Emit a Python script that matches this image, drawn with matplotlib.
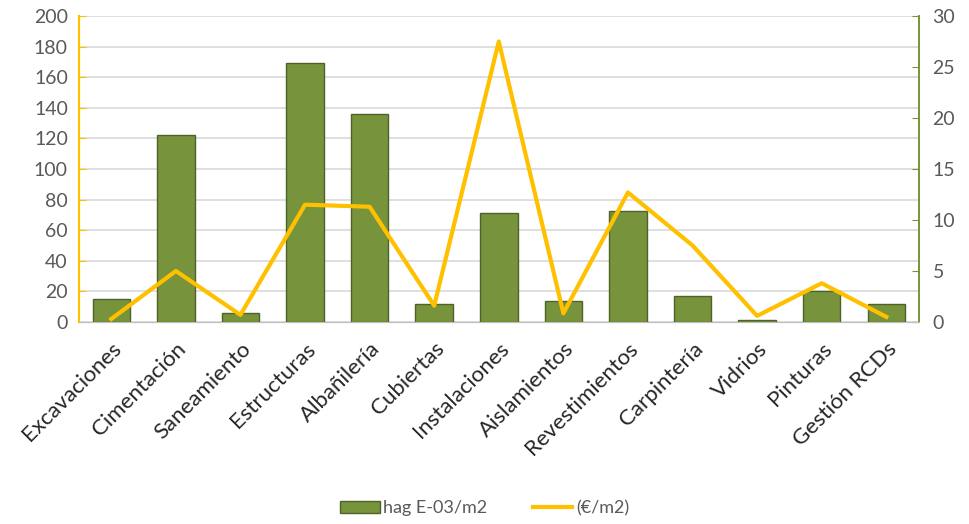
import matplotlib.pyplot as plt
import numpy as np

# Data
categories = ["Excavaciones", "Cimentación", "Saneamiento", "Estructuras", "Albañilería",
              "Cubiertas", "Instalaciones", "Aislamientos", "Revestimientos", "Carpintería",
              "Vidrios", "Pinturas", "Gestión RCDs"]
hag = [15, 122, 6, 169, 136, 12, 71.5, 14, 72.5, 17, 1.5, 20.5, 12]
euros = [0.3, 5.0, 0.7, 11.5, 11.3, 1.6, 27.5, 0.85, 12.7, 7.5, 0.6, 3.8, 0.5]

plt.rcParams['font.family'] = ['Lato', 'DejaVu Sans']
gray = "#595959"
bar_green = "#77933C"
line_yellow = "#FFC000"

fig = plt.figure(figsize=(9.69, 5.24), dpi=100)
ax = fig.add_axes([0.0815, 0.3855, 0.8665, 0.584])
x = np.arange(len(categories))

ax.bar(x, hag, width=0.58, color=bar_green, edgecolor="#4F6228", linewidth=1,
       label="hag E-03/m2", zorder=3)
ax.set_ylim(0, 200)
ax.set_yticks(range(0, 201, 20))
ax.set_xlim(-0.5, len(categories) - 0.5)
ax.grid(axis="y", color="#D9D9D9", linewidth=1.2, zorder=0)
ax.set_axisbelow(True)
ax.set_xticks(x)
ax.set_xticklabels(categories, rotation=45, ha="right", rotation_mode="anchor",
                   fontsize=16, color="#262626")
ax.tick_params(axis="x", length=0, pad=12)
ax.tick_params(axis="y", direction="in", length=5, color=line_yellow, labelcolor=gray,
               labelsize=14, pad=8)

ax2 = ax.twinx()
ax2.plot(x, euros, color=line_yellow, linewidth=3, label="(€/m2)", zorder=4)
ax2.set_ylim(0, 30)
ax2.set_yticks(range(0, 31, 5))
ax2.tick_params(axis="y", direction="in", length=5, color="#77933C", labelcolor=gray,
                labelsize=14, pad=10)

for a in (ax, ax2):
    a.spines["top"].set_visible(False)
    a.spines["left"].set_color(line_yellow)
    a.spines["right"].set_color("#77933C")
    a.spines["bottom"].set_color("#BFBFBF")
    a.spines["left"].set_linewidth(1.5)
    a.spines["right"].set_linewidth(1.2)

h1, l1 = ax.get_legend_handles_labels()
h2, l2 = ax2.get_legend_handles_labels()
fig.legend(h1 + h2, l1 + l2, loc="center", bbox_to_anchor=(0.5, 0.03), ncol=2,
           frameon=False, fontsize=13, labelcolor=gray, handlelength=2.2,
           handletextpad=0.2, columnspacing=2.5)

fig.savefig("out.png", dpi=100)
